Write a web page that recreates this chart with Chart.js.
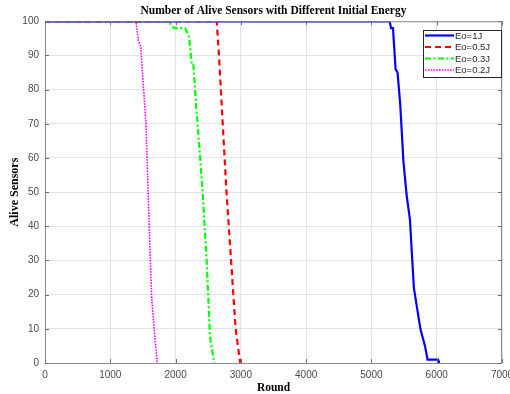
<!DOCTYPE html>
<html>
<head>
<meta charset="utf-8">
<script src="https://cdn.jsdelivr.net/npm/chart.js@4"></script>
<style>
  body { margin: 0; background: #fff; }
  #wrap { width: 510px; height: 394px; }
</style>
</head>
<body>
<div id="wrap"><canvas id="c" width="510" height="394"></canvas></div>
<script>
// values (round, alive sensors)
const e1Rounds  = [0, 5280, 5300, 5330, 5370, 5400, 5440, 5490, 5540, 5590, 5650, 5700, 5750, 5820, 5860, 6020, 6040];
const e1Alive   = [100, 100, 98, 98, 86, 85, 76, 59, 49, 42, 22, 16, 10, 5, 1, 1, 0];

const e05Rounds = [0, 2630, 2665, 2705, 2780, 2850, 2920, 2990];
const e05Alive  = [100, 100, 90, 76, 50, 30, 10, 0];

const e03Rounds = [0, 1890, 1975, 2145, 2205, 2246, 2271, 2312, 2389, 2424, 2476, 2527, 2552, 2593];
const e03Alive  = [100, 100, 98, 98, 95.5, 88, 88, 76, 57, 47, 30, 8, 4.5, 0];

const e02Rounds = [0, 1393, 1429, 1465, 1547, 1597, 1634, 1684, 1720];
const e02Alive  = [100, 100, 94.4, 92.6, 70, 39.5, 19, 7.3, 0];

const seriesNames = ['Eo=1J', 'Eo=0.5J', 'Eo=0.3J', 'Eo=0.2J'];
const xTicks = [0, 1000, 2000, 3000, 4000, 5000, 6000, 7000];
const yTicks = [0, 10, 20, 30, 40, 50, 60, 70, 80, 90, 100];

const toPts = (xs, ys) => xs.map((x, i) => ({ x: x, y: ys[i] }));

// boxed legend + inward ticks on all four sides, matlab style
const boxPlugin = {
  id: 'box',
  afterDraw(chart) {
    const ctx = chart.ctx;
    const a = chart.chartArea;
    const xs = chart.scales.x, ys = chart.scales.y;
    ctx.save();
    ctx.strokeStyle = '#8c8c8c';
    ctx.lineWidth = 1;
    ctx.strokeRect(a.left + 0.5, a.top + 0.5, a.right - a.left - 1, a.bottom - a.top);
    ctx.strokeStyle = '#707070';
    ctx.beginPath();
    xTicks.forEach(v => {
      const px = Math.round(xs.getPixelForValue(v)) + 0.5;
      ctx.moveTo(px, a.bottom); ctx.lineTo(px, a.bottom - 4);
      ctx.moveTo(px, a.top); ctx.lineTo(px, a.top + 4);
    });
    yTicks.forEach(v => {
      const py = Math.round(ys.getPixelForValue(v)) + 0.5;
      ctx.moveTo(a.left, py); ctx.lineTo(a.left + 4, py);
      ctx.moveTo(a.right, py); ctx.lineTo(a.right - 4, py);
    });
    ctx.stroke();

    // legend
    const bx = 423, by = 30, bw = 78, bh = 47;
    ctx.fillStyle = '#fff';
    ctx.fillRect(bx, by, bw, bh);
    ctx.strokeStyle = '#262626';
    ctx.strokeRect(bx + 0.5, by + 0.5, bw, bh);
    ctx.font = '9.5px "Liberation Sans", Arial, sans-serif';
    ctx.textBaseline = 'middle';
    chart.data.datasets.forEach((ds, i) => {
      const y = by + 5.5 + i * 11.5;
      ctx.strokeStyle = ds.borderColor;
      ctx.lineWidth = ds.borderWidth;
      ctx.setLineDash(ds.borderDash || []);
      ctx.beginPath();
      ctx.moveTo(bx + 2, y); ctx.lineTo(bx + 31, y);
      ctx.stroke();
      ctx.setLineDash([]);
      ctx.fillStyle = '#262626';
      ctx.fillText(ds.label, bx + 32, y + 0.5);
    });
    ctx.restore();
  }
};

new Chart(document.getElementById('c'), {
  type: 'line',
  data: {
    datasets: [
      { label: seriesNames[0], data: toPts(e1Rounds, e1Alive), borderColor: '#0000ff', borderWidth: 2.2 },
      { label: seriesNames[1], data: toPts(e05Rounds, e05Alive), borderColor: '#ff0000', borderWidth: 2.2, borderDash: [6, 4] },
      { label: seriesNames[2], data: toPts(e03Rounds, e03Alive), borderColor: '#00ff00', borderWidth: 2.2, borderDash: [6, 2.5, 2, 2.5] },
      { label: seriesNames[3], data: toPts(e02Rounds, e02Alive), borderColor: '#ff00ff', borderWidth: 1.6, borderDash: [1.6, 1.2] }
    ]
  },
  options: {
    responsive: false,
    animation: false,
    layout: { padding: { left: 0, right: 8, top: 0, bottom: 0 } },
    elements: { point: { radius: 0 }, line: { tension: 0, fill: false } },
    plugins: {
      legend: { display: false },
      tooltip: { enabled: false },
      title: {
        display: true,
        fullSize: false,
        text: 'Number of Alive Sensors with Different Initial Energy',
        color: '#000',
        font: { family: '"Liberation Serif", "Times New Roman", serif', size: 11.5, weight: 'bold' },
        padding: { top: 4, bottom: 3.5 }
      }
    },
    scales: {
      x: {
        type: 'linear',
        min: 0, max: 7000,
        afterBuildTicks: s => { s.ticks = xTicks.map(v => ({ value: v })); },
        afterFit: s => { s.height = 31; s.paddingLeft = 0; s.paddingRight = 0; },
        grid: { color: '#e3e3e3', drawTicks: false },
        border: { display: false },
        ticks: { color: '#4a4a4a', padding: 6, maxRotation: 0, callback: v => String(v), font: { family: '"Liberation Sans", Arial, sans-serif', size: 10 } },
        title: {
          display: true, text: 'Round', color: '#000',
          font: { family: '"Liberation Serif", "Times New Roman", serif', size: 11.5, weight: 'bold' },
          padding: { top: 0, bottom: -1 }
        }
      },
      y: {
        min: 0, max: 100,
        afterBuildTicks: s => { s.ticks = yTicks.map(v => ({ value: v })); },
        afterFit: s => { s.width = 45; s.paddingTop = 0; s.paddingBottom = 0; },
        grid: { color: '#e3e3e3', drawTicks: false },
        border: { display: false },
        ticks: { color: '#4a4a4a', padding: 6, callback: v => String(v), font: { family: '"Liberation Sans", Arial, sans-serif', size: 10 } },
        title: {
          display: true, text: 'Alive Sensors', color: '#000',
          font: { family: '"Liberation Serif", "Times New Roman", serif', size: 12, weight: 'bold' },
          padding: { top: 8, bottom: 0 }
        }
      }
    }
  },
  plugins: [boxPlugin]
});
</script>
</body>
</html>
